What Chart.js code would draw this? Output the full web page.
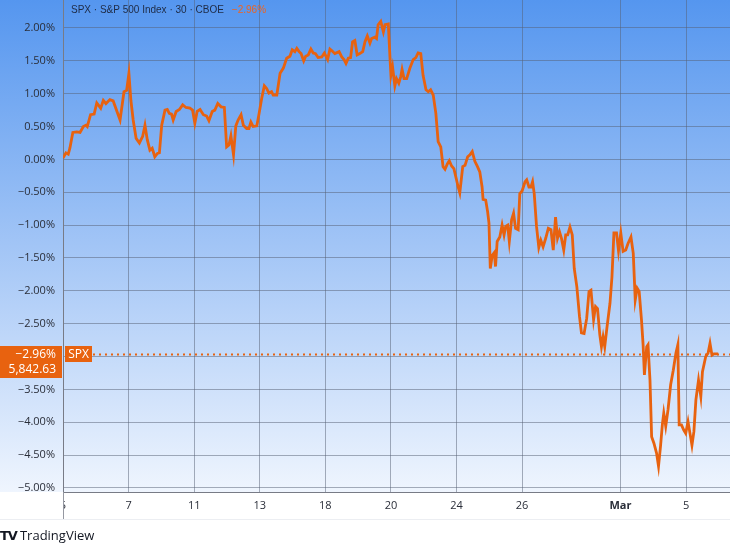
<!DOCTYPE html>
<html>
<head>
<meta charset="utf-8">
<script src="https://cdn.jsdelivr.net/npm/chart.js@4.4.1/dist/chart.umd.min.js"></script>
<style>
  html, body { margin: 0; padding: 0; background: #fff; }
  #wrap { position: relative; width: 730px; height: 547px; }
  #logo { position: absolute; left: 0; top: 526px; font: 13px "Open Sans", sans-serif; color: #131722; line-height: 18px; }
  #logo b { font-family: "DejaVu Sans", sans-serif; font-weight: 900; letter-spacing: -1px; margin-right: 3px; }
</style>
</head>
<body>
<div id="wrap">
  <canvas id="spx" width="730" height="547"></canvas>
  <div id="logo"><b>TV</b>TradingView</div>
</div>
<script>
// x = trading days since Feb 5 open, y = % change vs first bar (30 min bars)
var days = [0.00,0.09,0.16,0.21,0.30,0.42,0.52,0.62,0.70,0.74,
  0.84,0.95,1.03,1.15,1.23,1.31,1.43,1.53,1.74,1.86,
  1.94,2.01,2.07,2.14,2.23,2.33,2.43,2.50,2.57,2.65,
  2.72,2.80,2.88,2.94,3.01,3.11,3.18,3.24,3.31,3.36,
  3.45,3.55,3.65,3.75,3.87,3.95,4.02,4.09,4.18,4.28,
  4.38,4.45,4.55,4.63,4.72,4.82,4.92,4.99,5.06,5.12,
  5.20,5.27,5.34,5.43,5.50,5.60,5.67,5.73,5.80,5.91,
  5.98,6.06,6.14,6.21,6.28,6.36,6.41,6.52,6.62,6.72,
  6.82,6.92,6.99,7.07,7.13,7.20,7.26,7.34,7.40,7.48,
  7.56,7.63,7.70,7.78,7.89,7.97,8.07,8.14,8.21,8.29,
  8.42,8.50,8.57,8.63,8.70,8.77,8.83,8.90,8.97,9.05,
  9.14,9.21,9.28,9.36,9.41,9.51,9.56,9.61,9.69,9.77,
  9.82,9.92,9.97,10.00,10.05,10.12,10.17,10.24,10.30,10.34,
  10.40,10.48,10.58,10.68,10.76,10.83,10.91,10.98,11.07,11.14,
  11.21,11.29,11.37,11.44,11.52,11.59,11.65,11.72,11.78,11.85,
  11.92,12.00,12.05,12.10,12.19,12.26,12.34,12.41,12.48,12.56,
  12.64,12.71,12.78,12.81,12.89,12.95,12.99,13.03,13.09,13.15,
  13.19,13.24,13.32,13.39,13.45,13.50,13.56,13.61,13.68,13.74,
  13.80,13.88,13.93,14.00,14.09,14.14,14.21,14.27,14.32,14.37,
  14.44,14.51,14.57,14.64,14.72,14.80,14.88,14.95,15.02,15.08,
  15.14,15.20,15.27,15.33,15.39,15.46,15.53,15.59,15.67,15.75,
  15.81,15.89,15.97,16.04,16.10,16.18,16.24,16.30,16.37,16.42,
  16.47,16.52,16.59,16.68,16.74,16.80,16.88,16.94,17.01,17.08,
  17.16,17.23,17.32,17.39,17.45,17.51,17.57,17.64,17.69,17.73,
  17.80,17.84,17.90,17.95,18.02,18.10,18.16,18.22,18.28,18.32,
  18.38,18.45,18.53,18.61,18.69,18.75,18.79,18.86,18.93,18.99,
  19.06,19.12,19.18,19.24,19.30,19.38,19.45,19.50,19.60,19.67,
  19.73,19.79,19.85,19.93,19.98];
var pct = [0.02,0.10,0.08,0.17,0.41,0.42,0.41,0.50,0.52,0.50,
  0.68,0.69,0.86,0.78,0.90,0.85,0.91,0.89,0.60,1.03,
  1.05,1.31,0.90,0.60,0.32,0.25,0.35,0.52,0.30,0.14,
  0.17,0.04,0.09,0.10,0.52,0.75,0.76,0.70,0.69,0.60,
  0.73,0.76,0.83,0.79,0.78,0.75,0.55,0.73,0.76,0.68,
  0.66,0.59,0.73,0.75,0.85,0.80,0.79,0.19,0.22,0.36,
  0.07,0.51,0.60,0.68,0.52,0.47,0.47,0.57,0.50,0.51,
  0.70,0.93,1.12,1.08,1.01,1.03,0.98,0.98,1.31,1.39,
  1.54,1.57,1.67,1.64,1.69,1.64,1.61,1.50,1.57,1.59,
  1.68,1.62,1.61,1.55,1.56,1.62,1.52,1.68,1.65,1.61,
  1.64,1.56,1.52,1.46,1.54,1.55,1.79,1.81,1.59,1.61,
  1.64,1.79,1.88,1.77,1.84,1.86,1.84,2.05,2.10,1.94,
  2.05,2.06,1.56,1.28,1.41,1.12,1.23,1.16,1.26,1.37,
  1.23,1.23,1.39,1.52,1.55,1.62,1.61,1.28,1.06,1.03,
  1.06,0.98,0.70,0.27,0.19,-0.11,-0.15,-0.07,-0.02,-0.10,
  -0.14,-0.31,-0.42,-0.51,-0.11,-0.09,0.04,0.07,0.12,-0.03,
  -0.11,-0.19,-0.42,-0.61,-0.62,-0.80,-0.97,-1.66,-1.46,-1.42,
  -1.63,-1.25,-1.18,-1.00,-1.15,-1.02,-1.00,-1.25,-0.92,-0.82,
  -1.05,-1.07,-0.52,-0.48,-0.34,-0.31,-0.42,-0.42,-0.34,-0.52,
  -1.02,-1.34,-1.23,-1.33,-1.20,-1.05,-1.07,-1.38,-0.88,-1.20,
  -1.10,-1.20,-1.38,-1.15,-1.15,-1.03,-1.15,-1.66,-1.94,-2.39,
  -2.64,-2.65,-2.42,-2.01,-1.99,-2.44,-2.24,-2.27,-2.67,-2.85,
  -2.70,-2.85,-2.55,-2.19,-1.79,-1.12,-1.12,-1.39,-1.12,-1.40,
  -1.38,-1.28,-1.18,-1.43,-2.14,-1.96,-2.01,-2.44,-2.82,-3.28,
  -2.85,-2.82,-3.36,-4.22,-4.32,-4.47,-4.67,-4.37,-4.02,-3.86,
  -4.06,-3.81,-3.43,-3.21,-2.95,-2.82,-4.04,-4.04,-4.12,-4.17,
  -3.99,-4.17,-4.35,-4.14,-3.66,-3.36,-3.61,-3.23,-3.00,-2.95,
  -2.80,-2.98,-2.96,-2.96,-2.96];

var tickDays = [0, 2, 4, 6, 8, 10, 12, 14, 17, 19];
var tickLabels = ["5", "7", "11", "13", "18", "20", "24", "26", "Mar", "5"];
var yTicks = [2, 1.5, 1, 0.5, 0, -0.5, -1, -1.5, -2, -2.5, -3, -3.5, -4, -4.5, -5];

var lastPct = -2.96;
var lastPrice = "5,842.63";
var title = "SPX · S&P 500 Index · 30 · CBOE";

var lineColor = "#e8620f";
var gridColor = "rgba(85,95,115,0.5)";

function fmtPct(v) {
  return (v < 0 ? "\u2212" : "") + Math.abs(v).toFixed(2) + "%";
}

function noPad(s) {
  s.paddingTop = 0;
  s.paddingBottom = 0;
  s.paddingLeft = 0;
  s.paddingRight = 0;
}

var decor = {
  id: "decor",
  beforeDraw(chart) {
    var ctx = chart.ctx, area = chart.chartArea;
    ctx.save();
    var g = ctx.createLinearGradient(0, 0, 0, area.bottom);
    g.addColorStop(0, "#5596ef");
    g.addColorStop(0.5, "#a2c5f6");
    g.addColorStop(1, "#eff5fe");
    ctx.fillStyle = g;
    ctx.fillRect(0, 0, chart.width, area.bottom);
    ctx.fillStyle = "#fff";
    ctx.fillRect(0, area.bottom, chart.width, chart.height - area.bottom);
    ctx.restore();
  },
  beforeDatasetsDraw(chart) {
    var ctx = chart.ctx, area = chart.chartArea;
    var y = Math.round(chart.scales.y.getPixelForValue(lastPct)) + 0.5;
    ctx.save();
    ctx.strokeStyle = lineColor;
    ctx.lineWidth = 2;
    ctx.setLineDash([2, 4]);
    ctx.beginPath();
    ctx.moveTo(area.left + 30, y);
    ctx.lineTo(area.right, y);
    ctx.stroke();
    ctx.restore();
  },
  afterDraw(chart) {
    var ctx = chart.ctx, area = chart.chartArea;
    var y = Math.round(chart.scales.y.getPixelForValue(lastPct));
    ctx.save();
    // clip whatever sticks below the plot on the left
    ctx.fillStyle = "#fff";
    ctx.fillRect(0, area.bottom + 1, area.left, 27);
    ctx.strokeStyle = "#9598a1";
    ctx.lineWidth = 1;
    ctx.beginPath();
    ctx.moveTo(area.left + 0.5, area.bottom);
    ctx.lineTo(area.left + 0.5, area.bottom + 27);
    ctx.stroke();
    ctx.strokeStyle = "#eceef2";
    ctx.beginPath();
    ctx.moveTo(0, area.bottom + 27.5);
    ctx.lineTo(chart.width, area.bottom + 27.5);
    ctx.stroke();

    // header
    ctx.font = "10px 'Liberation Sans'";
    ctx.textBaseline = "middle";
    ctx.textAlign = "left";
    ctx.fillStyle = "#1e2b45";
    ctx.fillText(title, area.left + 8, 10);
    var w = ctx.measureText(title).width;
    ctx.fillStyle = "#ee6420";
    ctx.fillText(fmtPct(lastPct), area.left + 8 + w + 8, 10);

    // price tag
    ctx.fillStyle = lineColor;
    ctx.fillRect(0, y - 8, area.left - 1, 32);
    ctx.fillRect(area.left + 2, y - 8, 27, 16);
    ctx.fillStyle = "#fff";
    ctx.font = "12px 'Open Sans'";
    ctx.textAlign = "right";
    ctx.fillText(fmtPct(lastPct), area.left - 7, y + 1);
    ctx.fillText(lastPrice, area.left - 7, y + 16);
    ctx.textAlign = "center";
    ctx.fillText("SPX", area.left + 15.5, y + 1);
    ctx.restore();
  }
};

new Chart("spx", {
  type: "line",
  data: {
    datasets: [{
      data: days.map(function (d, i) { return { x: d, y: pct[i] }; }),
      borderColor: lineColor,
      borderWidth: 2.8,
      pointRadius: 0,
      tension: 0,
      fill: false
    }]
  },
  options: {
    responsive: false,
    animation: false,
    layout: { padding: { top: 0, right: 0, bottom: 27, left: 0 } },
    plugins: {
      legend: { display: false },
      tooltip: { enabled: false }
    },
    scales: {
      x: {
        type: "linear",
        min: 0,
        max: 20.34,
        afterBuildTicks: function (s) { s.ticks = tickDays.map(function (v) { return { value: v }; }); },
        afterFit: function (s) { s.height = 28; noPad(s); },
        grid: { color: gridColor, drawTicks: false },
        border: { color: "#787b86" },
        ticks: {
          autoSkip: false,
          maxRotation: 0,
          padding: 7,
          color: "#2a2e39",
          font: function (c) {
            return { family: "Open Sans", size: 11, weight: tickLabels[c.index] === "Mar" ? "bold" : "normal" };
          },
          callback: function (v, i) { return tickLabels[i]; }
        }
      },
      y: {
        min: -5.062,
        max: 2.426,
        afterBuildTicks: function (s) { s.ticks = yTicks.map(function (v) { return { value: v }; }); },
        afterFit: function (s) { s.width = 63; noPad(s); },
        grid: { color: gridColor, drawTicks: false },
        border: { color: "#787b86" },
        ticks: {
          padding: 8,
          color: "#2a2e39",
          font: { family: "Open Sans", size: 11 },
          callback: function (v) { return fmtPct(v); }
        }
      }
    }
  },
  plugins: [decor]
});
</script>
</body>
</html>
